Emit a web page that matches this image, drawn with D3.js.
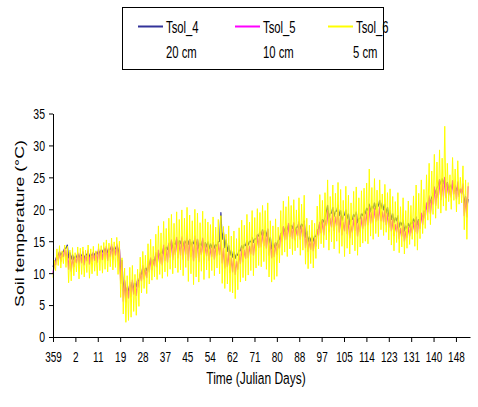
<!DOCTYPE html>
<html>
<head>
<meta charset="utf-8">
<script src="https://cdn.jsdelivr.net/npm/d3@7"></script>
<style>
  body { margin: 0; background: #fff; }
  svg text { font-family: "Liberation Sans", Arial, sans-serif; fill: #000; }
</style>
</head>
<body>
<script>
// soil temperature, daily min / max per depth (day 0 = Julian day 359)
var xLabels = ["359","2","11","19","28","37","45","54","62","71","80","88","97","105","114","123","131","140","148"];
var yTicks = [0, 5, 10, 15, 20, 25, 30, 35];
var seriesNames = ["Tsol_4", "Tsol_5", "Tsol_6"];
var seriesDepths = ["20 cm", "10 cm", "5 cm"];

// Tsol_6 (5 cm)
var tsol6Max = [
  12.0, 13.8, 14.3, 13.5, 14.4, 14.2, 13.6, 14.0, 13.2, 14.1,
  13.9, 14.1, 13.6, 14.4, 13.8, 14.2, 13.5, 14.6, 14.3, 14.8,
  15.2, 14.7, 15.5, 14.9, 15.6, 15.0, 12.4, 10.8, 9.6, 10.9,
  11.2, 9.8, 10.6, 12.5, 13.4, 12.8, 14.6, 15.3, 14.2, 16.1,
  17.4, 16.3, 18.1, 17.0, 18.6, 19.2, 17.8, 19.6, 18.4, 19.9,
  18.6, 20.3, 19.1, 18.2, 20.0, 19.4, 17.9, 19.7, 18.5, 18.0,
  17.6, 18.8, 17.2, 18.4, 19.0, 17.3, 16.1, 17.4, 15.8, 16.6,
  15.4, 17.1, 18.3, 17.5, 19.2, 18.0, 19.8, 18.7, 20.1, 19.5,
  20.6, 19.8, 21.0, 18.2, 17.4, 18.5, 17.2, 19.8, 21.3, 20.4,
  22.0, 20.6, 21.5, 19.9, 21.8, 20.8, 22.2, 18.6, 17.5, 18.3,
  17.8, 20.5, 22.3, 21.4, 22.6, 24.6, 22.0, 23.8, 22.5, 24.2,
  23.1, 21.4, 23.6, 22.2, 21.0, 22.8, 23.5, 21.8, 22.9, 23.3,
  24.1, 26.3, 23.4, 24.8, 23.0, 24.6, 22.4, 23.9, 22.6, 23.2,
  22.0, 21.2, 22.6, 20.4, 21.8, 19.8, 21.3, 20.6, 22.1, 23.8,
  22.5, 24.6, 23.1, 25.4, 27.2, 26.0, 28.6, 27.4, 29.3, 28.0,
  33.0, 27.2, 25.4, 28.1, 26.3, 27.6, 25.0, 26.8, 24.6, 24.2
];
var tsol6Min = [
  9.3, 10.4, 11.2, 10.8, 11.5, 10.9, 8.5, 8.8, 9.6, 10.2,
  9.1, 9.8, 9.4, 10.1, 9.2, 9.9, 10.3, 9.6, 10.4, 10.0,
  10.6, 10.2, 11.0, 10.5, 10.9, 9.8, 6.2, 3.6, 2.3, 2.6,
  3.1, 4.0, 3.4, 4.8, 6.9, 7.6, 6.8, 8.3, 8.9, 9.4,
  9.0, 9.8, 9.2, 10.2, 9.5, 10.6, 9.9, 10.8, 10.1, 10.5,
  9.6, 10.9, 8.7, 9.9, 8.2, 9.4, 8.6, 10.3, 9.0, 10.5,
  9.2, 10.4, 9.6, 10.8, 9.9, 8.4, 7.6, 8.3, 7.1, 6.9,
  6.0, 7.4, 8.6, 9.3, 8.8, 9.7, 10.4, 9.6, 10.8, 11.2,
  11.0, 11.8, 10.6, 9.4, 8.6, 9.0, 9.5, 11.6, 12.8, 13.3,
  12.6, 13.8, 12.9, 13.5, 14.0, 12.8, 13.6, 11.4, 10.7, 11.5,
  10.8, 12.3, 13.8, 14.6, 14.0, 15.2, 13.6, 14.9, 13.8, 15.0,
  13.1, 14.2, 12.6, 13.9, 13.0, 14.4, 13.5, 12.8, 14.1, 14.7,
  15.0, 14.6, 15.8, 15.3, 16.2, 15.7, 16.8, 15.9, 16.4, 15.2,
  14.4, 13.5, 14.8, 13.2, 14.1, 13.0, 13.9, 14.5, 15.3, 14.2,
  13.6, 15.4, 16.2, 17.0, 18.3, 17.6, 19.2, 18.6, 20.1, 19.4,
  20.5, 19.8, 21.2, 20.0, 21.4, 19.6, 20.8, 21.0, 16.8, 15.3
];

// Tsol_5 (10 cm)
var tsol5Max = [
  11.4, 12.8, 13.4, 13.0, 13.9, 13.6, 13.0, 12.6, 12.4, 13.2,
  13.1, 13.4, 12.9, 13.6, 13.0, 13.3, 13.2, 13.8, 13.6, 14.0,
  14.2, 13.9, 14.5, 14.0, 14.6, 14.1, 11.8, 8.9, 7.8, 8.6,
  8.9, 8.2, 9.1, 10.1, 11.2, 10.6, 11.8, 12.4, 12.0, 13.2,
  13.6, 13.0, 14.4, 13.8, 14.7, 15.2, 14.3, 15.6, 14.8, 15.7,
  15.0, 16.1, 15.2, 14.6, 15.8, 15.3, 14.2, 15.5, 14.6, 14.4,
  14.0, 14.8, 14.1, 14.6, 15.1, 13.9, 13.0, 13.4, 12.4, 12.6,
  11.8, 13.0, 13.9, 13.6, 14.8, 14.2, 15.3, 14.7, 15.9, 16.2,
  16.6, 16.1, 16.9, 15.0, 14.3, 14.8, 14.6, 16.2, 17.3, 17.0,
  17.8, 17.2, 17.9, 16.8, 18.1, 17.4, 18.0, 16.0, 15.3, 15.6,
  15.4, 16.8, 18.0, 18.2, 18.4, 19.8, 18.6, 19.6, 18.8, 19.9,
  18.9, 17.9, 19.2, 18.3, 17.4, 18.6, 19.0, 17.8, 18.7, 19.3,
  19.6, 20.4, 19.5, 20.2, 19.8, 20.4, 19.6, 20.1, 19.4, 19.2,
  18.4, 17.6, 18.2, 17.0, 17.6, 16.5, 17.2, 17.4, 18.0, 18.6,
  18.2, 19.4, 19.8, 21.0, 22.1, 21.6, 23.5, 23.0, 24.6, 24.2,
  25.0, 24.1, 23.4, 24.5, 23.8, 24.3, 23.2, 24.0, 21.8, 23.6
];
var tsol5Min = [
  10.0, 11.3, 12.0, 11.8, 12.6, 12.3, 10.6, 10.3, 11.0, 11.6,
  11.2, 11.6, 11.3, 11.9, 11.4, 11.8, 12.0, 11.7, 12.2, 12.1,
  12.3, 12.0, 12.6, 12.2, 12.8, 11.9, 8.4, 5.6, 5.5, 6.1,
  6.3, 6.7, 6.5, 7.8, 8.8, 9.1, 9.3, 10.2, 10.5, 11.1,
  11.0, 11.5, 11.3, 12.0, 11.7, 12.5, 12.1, 12.9, 12.4, 12.8,
  12.2, 13.0, 12.0, 12.6, 11.9, 12.4, 11.8, 12.9, 12.1, 12.7,
  12.0, 12.6, 12.2, 12.8, 12.9, 11.6, 10.8, 11.0, 10.1, 10.2,
  9.8, 10.6, 11.5, 11.8, 12.3, 12.4, 13.0, 12.8, 13.5, 14.0,
  14.1, 14.3, 13.9, 12.8, 12.4, 12.6, 12.9, 13.9, 15.0, 15.2,
  15.3, 15.7, 15.4, 15.2, 15.9, 15.3, 15.8, 14.0, 13.4, 13.7,
  13.5, 14.2, 15.9, 16.3, 16.0, 17.4, 16.5, 17.2, 16.7, 17.5,
  16.4, 16.0, 16.6, 16.2, 15.5, 16.4, 16.7, 15.8, 16.5, 17.0,
  17.4, 17.6, 17.8, 18.0, 18.1, 18.3, 18.2, 18.0, 17.6, 17.2,
  16.6, 15.9, 16.4, 15.4, 15.8, 15.0, 15.6, 15.8, 16.3, 16.5,
  16.2, 17.0, 17.6, 18.6, 19.6, 19.3, 20.8, 20.6, 21.8, 21.5,
  22.0, 21.8, 22.2, 21.9, 22.4, 21.6, 22.0, 22.5, 19.0, 18.8
];

// Tsol_4 (20 cm)
var tsol4Max = [
  11.5, 12.7, 13.3, 13.2, 13.9, 14.4, 13.2, 12.9, 12.6, 13.0,
  12.9, 13.2, 12.8, 13.4, 13.0, 13.2, 13.3, 13.5, 13.6, 13.8,
  13.9, 13.7, 14.2, 13.9, 14.3, 14.0, 12.0, 8.7, 7.7, 8.2,
  8.6, 8.4, 8.9, 9.8, 10.9, 10.8, 11.4, 12.2, 12.1, 12.9,
  13.2, 13.4, 14.0, 14.1, 14.6, 15.0, 14.7, 15.3, 15.1, 15.4,
  15.0, 15.5, 15.3, 14.9, 15.4, 15.3, 14.7, 15.2, 14.8, 14.9,
  14.6, 14.8, 14.5, 14.9, 19.5, 16.4, 15.2, 14.3, 13.6, 13.3,
  13.0, 13.6, 14.3, 14.5, 15.1, 15.0, 15.6, 15.4, 16.0, 16.5,
  16.8, 16.7, 16.9, 15.6, 14.6, 14.8, 15.1, 16.2, 17.2, 17.3,
  17.6, 17.5, 17.8, 17.2, 18.0, 17.7, 18.2, 16.6, 15.7, 15.8,
  15.8, 16.6, 17.9, 18.4, 18.8, 20.6, 19.4, 20.3, 19.7, 20.6,
  19.8, 19.0, 19.9, 19.3, 18.4, 19.2, 19.6, 18.6, 19.3, 19.8,
  20.2, 20.8, 20.5, 21.0, 20.9, 21.4, 21.0, 20.8, 20.3, 19.8,
  19.3, 18.7, 19.0, 18.0, 18.3, 17.4, 17.8, 18.0, 18.5, 18.8,
  18.4, 19.0, 19.6, 20.6, 21.8, 21.9, 23.2, 23.4, 24.6, 24.8,
  24.9, 24.2, 23.8, 24.0, 23.6, 23.7, 23.1, 23.5, 22.0, 21.6
];
var tsol4Min = [
  11.0, 12.1, 12.8, 12.8, 13.4, 13.9, 12.4, 12.2, 12.1, 12.5,
  12.4, 12.7, 12.3, 12.9, 12.5, 12.7, 12.8, 13.0, 13.1, 13.3,
  13.4, 13.2, 13.7, 13.4, 13.8, 13.1, 9.6, 7.2, 6.8, 7.2,
  7.6, 7.5, 7.9, 8.7, 9.8, 9.9, 10.4, 11.2, 11.3, 11.9,
  12.4, 12.7, 13.1, 13.4, 13.7, 14.2, 13.9, 14.5, 14.3, 14.6,
  14.2, 14.7, 14.5, 14.1, 14.6, 14.4, 13.9, 14.3, 14.0, 14.1,
  13.8, 14.0, 13.9, 14.2, 15.0, 15.3, 14.0, 13.4, 12.8, 12.5,
  12.3, 12.8, 13.5, 13.8, 14.3, 14.4, 14.9, 14.8, 15.3, 15.8,
  16.0, 15.9, 15.8, 14.7, 13.8, 14.0, 14.3, 15.3, 16.3, 16.5,
  16.8, 16.7, 17.0, 16.4, 17.2, 16.9, 17.3, 15.6, 14.9, 15.0,
  15.0, 15.7, 17.0, 17.6, 18.0, 19.6, 18.6, 19.4, 18.9, 19.7,
  19.0, 18.2, 19.1, 18.5, 17.6, 18.4, 18.8, 17.9, 18.5, 19.0,
  19.3, 19.8, 19.6, 20.1, 20.0, 20.5, 20.1, 19.9, 19.4, 18.9,
  18.4, 17.9, 18.2, 17.2, 17.5, 16.6, 17.0, 17.2, 17.7, 18.0,
  17.6, 18.1, 18.8, 19.7, 20.9, 21.0, 22.3, 22.5, 23.7, 23.9,
  24.0, 23.5, 23.0, 23.2, 22.8, 22.9, 22.3, 22.7, 20.6, 20.4
];

var colors = ["#333399", "#ff00ff", "#ffff00"];
var widths = [1.2, 1.2, 1];

window.onload = function(){
	var w = 478, h = 407;
	var daysPerLabel = 8.6; // category labels are spaced this many days apart
	var stretch = 1.45;     // the text in the original is tall and narrow

	var svg = d3.select("body").append("svg")
		.attr("width", w)
		.attr("height", h);

	var x = d3.scaleLinear()
		.domain([0, 160.2])
		.range([53, 470]);

	var y = d3.scaleLinear()
		.domain([0, 35])
		.range([337, 113.5]);

	//turn the daily min/max pairs into one zigzag line
	function toPoints(mins, maxs){
		var pts = [];
		mins.forEach(function(v, i){
			pts.push([i, v]);
			pts.push([i + 0.5, maxs[i]]);
		});
		return pts;
	}
	var series = [
		toPoints(tsol4Min, tsol4Max),
		toPoints(tsol5Min, tsol5Max),
		toPoints(tsol6Min, tsol6Max)
	];

	var line = d3.line()
		.x(function(d){ return x(d[0]); })
		.y(function(d){ return y(d[1]); });

	svg.selectAll(".series")
		.data(series)
		.enter()
		.append("path")
		.attr("class", "series")
		.attr("d", line)
		.style("fill", "none")
		.style("stroke", function(d, i){ return colors[i]; })
		.style("stroke-width", function(d, i){ return widths[i]; })
		.style("stroke-linejoin", "round");

	//y axis
	var yAxis = d3.axisLeft(y)
		.tickValues(yTicks)
		.tickSize(4)
		.tickSizeOuter(0)
		.tickPadding(4);
	var gy = svg.append("g")
		.attr("transform", "translate(53,0)")
		.call(yAxis);
	gy.selectAll("text")
		.style("font-size", "10.5px")
		.attr("transform", "scale(1," + stretch + ")");

	//x axis
	var xAxis = d3.axisBottom(x)
		.tickValues(xLabels.map(function(d, i){ return i * daysPerLabel; }))
		.tickFormat(function(d, i){ return xLabels[i]; })
		.tickSize(5)
		.tickSizeOuter(0);
	var gx = svg.append("g")
		.attr("transform", "translate(0,337)")
		.call(xAxis);
	gx.selectAll("text")
		.style("font-size", "10px")
		.attr("y", 0)
		.attr("dy", 0)
		.attr("transform", "translate(0,24.5) scale(1," + stretch + ")");

	svg.selectAll(".domain, .tick line").style("stroke", "#000");

	//axis titles
	svg.append("text")
		.attr("text-anchor", "middle")
		.attr("transform", "translate(256,383.5) scale(1," + stretch + ")")
		.style("font-size", "12px")
		.text("Time (Julian Days)");

	svg.append("text")
		.attr("text-anchor", "middle")
		.attr("transform", "translate(24,223.5) scale(1,1.48) rotate(-90)")
		.style("font-size", "12px")
		.text("Soil temperature (°C)");

	//legend
	svg.append("rect")
		.attr("x", 122.5)
		.attr("y", 7.5)
		.attr("width", 261)
		.attr("height", 62)
		.style("fill", "#fff")
		.style("stroke", "#000");

	var legendX = [138, 235, 328];
	var items = svg.selectAll(".legendItem")
		.data(seriesNames)
		.enter()
		.append("g")
		.attr("class", "legendItem")
		.attr("transform", function(d, i){ return "translate(" + legendX[i] + ",0)"; });

	items.append("line")
		.attr("x1", 0).attr("x2", 25)
		.attr("y1", 26.5).attr("y2", 26.5)
		.style("stroke", function(d, i){ return colors[i]; })
		.style("stroke-width", 2);

	items.append("text")
		.attr("transform", "translate(28,32.5) scale(1," + stretch + ")")
		.style("font-size", "11.3px")
		.text(function(d){ return d; });

	items.append("text")
		.attr("transform", function(d, i){
			return "translate(" + (i == 2 ? 25 : 28) + ",58.3) scale(1," + stretch + ")";
		})
		.style("font-size", "11.3px")
		.text(function(d, i){ return seriesDepths[i]; });
};
</script>
</body>
</html>
